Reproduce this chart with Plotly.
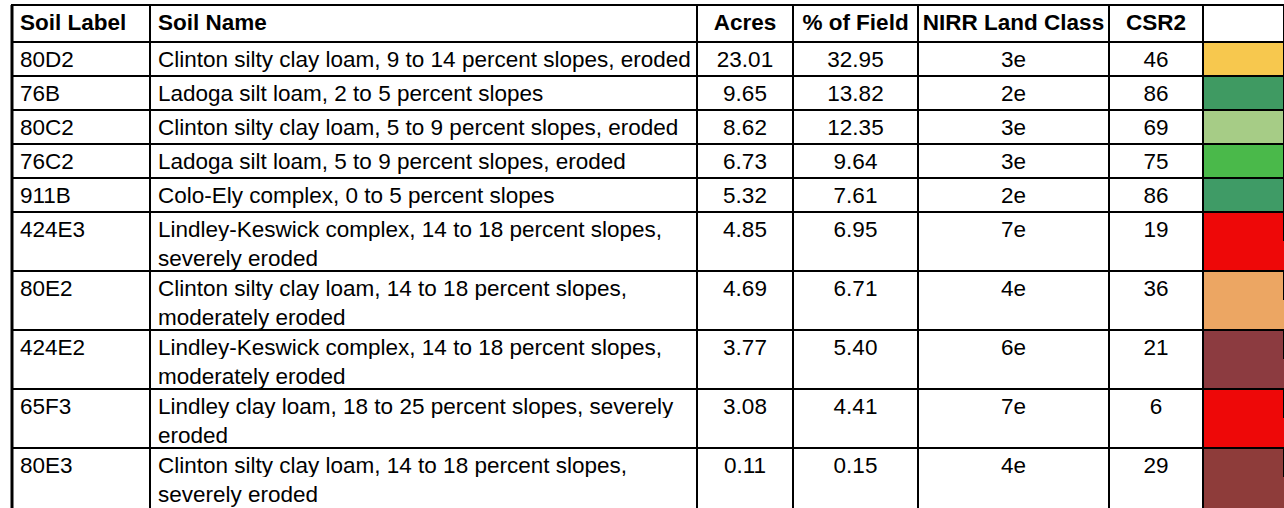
import plotly.graph_objects as go

# ---------------- data ----------------
header_labels = ["Soil Label", "Soil Name", "Acres", "% of Field", "NIRR Land Class", "CSR2", ""]
soil_labels = ["80D2", "76B", "80C2", "76C2", "911B", "424E3", "80E2", "424E2", "65F3", "80E3"]
soil_names = [
    "Clinton silty clay loam, 9 to 14 percent slopes, eroded",
    "Ladoga silt loam, 2 to 5 percent slopes",
    "Clinton silty clay loam, 5 to 9 percent slopes, eroded",
    "Ladoga silt loam, 5 to 9 percent slopes, eroded",
    "Colo-Ely complex, 0 to 5 percent slopes",
    "Lindley-Keswick complex, 14 to 18 percent slopes,\nseverely eroded",
    "Clinton silty clay loam, 14 to 18 percent slopes,\nmoderately eroded",
    "Lindley-Keswick complex, 14 to 18 percent slopes,\nmoderately eroded",
    "Lindley clay loam, 18 to 25 percent slopes, severely\neroded",
    "Clinton silty clay loam, 14 to 18 percent slopes,\nseverely eroded",
]
acres = [23.01, 9.65, 8.62, 6.73, 5.32, 4.85, 4.69, 3.77, 3.08, 0.11]
pct_of_field = [32.95, 13.82, 12.35, 9.64, 7.61, 6.95, 6.71, 5.40, 4.41, 0.15]
nirr_class = ["3e", "2e", "3e", "3e", "2e", "7e", "4e", "6e", "7e", "4e"]
csr2 = [46, 86, 69, 75, 86, 19, 36, 21, 6, 29]
csr2_colors = ["#F7C84E", "#3F9A62", "#A6CC86", "#4AB94A", "#3F9B66",
               "#EE0808", "#ECA663", "#8C3B40", "#EE0808", "#8E3C3A"]

# ---------------- style ----------------
col_widths = [138, 547, 96, 125, 191, 94, 81]
aligns = ["left", "left", "center", "center", "center", "center", "center"]
FONT = "Liberation Sans, Arial, sans-serif"
FS = 22.5
W, H = 1284, 508
ML, MT = 12, 5
HEADER_H = 37
SINGLE_H = 34
SUB_H = 29.5
LINE_W = 2


def nb(s):
    # keep texts on one line inside a cell
    return str(s).replace(" ", "\u00a0")


n = len(soil_labels)
split = next(i for i, s in enumerate(soil_names) if "\n" in s)

# ---------- table 1: header + single-line records ----------
t1_cols = [[], [], [], [], [], [], []]
t1_fill = [[], [], [], [], [], [], []]
for i in range(split):
    row = [soil_labels[i], soil_names[i], f"{acres[i]:.2f}", f"{pct_of_field[i]:.2f}",
           nirr_class[i], str(csr2[i]), ""]
    for c in range(7):
        t1_cols[c].append(nb(row[c]))
        t1_fill[c].append(csr2_colors[i] if c == 6 else "white")

# ---------- table 2: two-line records (each as two sub-rows) ----------
t2_cols = [[], [], [], [], [], [], []]
t2_fill = [[], [], [], [], [], [], []]
t2_line = [[], [], [], [], [], [], []]
for i in range(split, n):
    first, second = soil_names[i].split("\n")
    row_a = [soil_labels[i], first, f"{acres[i]:.2f}", f"{pct_of_field[i]:.2f}",
             nirr_class[i], str(csr2[i]), ""]
    row_b = ["", second, "", "", "", "", ""]
    for c in range(7):
        fill = csr2_colors[i] if c == 6 else "white"
        t2_cols[c] += [nb(row_a[c]), nb(row_b[c])]
        t2_fill[c] += [fill, fill]
        t2_line[c] += ["black", fill]

plot_h = H - MT
t1_height = HEADER_H + SINGLE_H * split
y_split = 1 - t1_height / plot_h

fig = go.Figure()
fig.add_trace(go.Table(
    domain=dict(x=[0, 1], y=[y_split, 1]),
    columnwidth=col_widths,
    header=dict(values=[nb(h) for h in header_labels], align=aligns, height=HEADER_H,
                fill_color="white", line=dict(color="black", width=LINE_W),
                font=dict(family=FONT, size=FS, color="black", weight="bold")),
    cells=dict(values=t1_cols, align=aligns, height=SINGLE_H,
               fill_color=t1_fill, line=dict(color="black", width=LINE_W),
               font=dict(family=FONT, size=FS, color="black")),
))
fig.add_trace(go.Table(
    domain=dict(x=[0, 1], y=[0, y_split]),
    columnwidth=col_widths,
    header=dict(values=[""] * 7, height=0, fill_color="white",
                line=dict(color="black", width=LINE_W)),
    cells=dict(values=t2_cols, align=aligns, height=SUB_H,
               fill_color=t2_fill, line=dict(color=t2_line, width=LINE_W),
               font=dict(family=FONT, size=FS, color="black")),
))

# vertical column rules (over the merged two-line rows)
total_w = sum(col_widths)
cum = 0
xs = [0]
for w in col_widths[:-1]:
    cum += w
    xs.append(cum / total_w)
for k, x in enumerate(xs):
    fig.add_shape(type="line", xref="paper", yref="paper", x0=x, x1=x, y0=0, y1=1,
                  line=dict(color="black", width=3 if k == 0 else LINE_W))

fig.update_layout(width=W, height=H, margin=dict(l=ML, r=0, t=MT, b=0),
                  paper_bgcolor="white", plot_bgcolor="white", showlegend=False)
fig.write_html("out.html", config={"displayModeBar": False},
               post_script="document.body.style.margin='0px';")
